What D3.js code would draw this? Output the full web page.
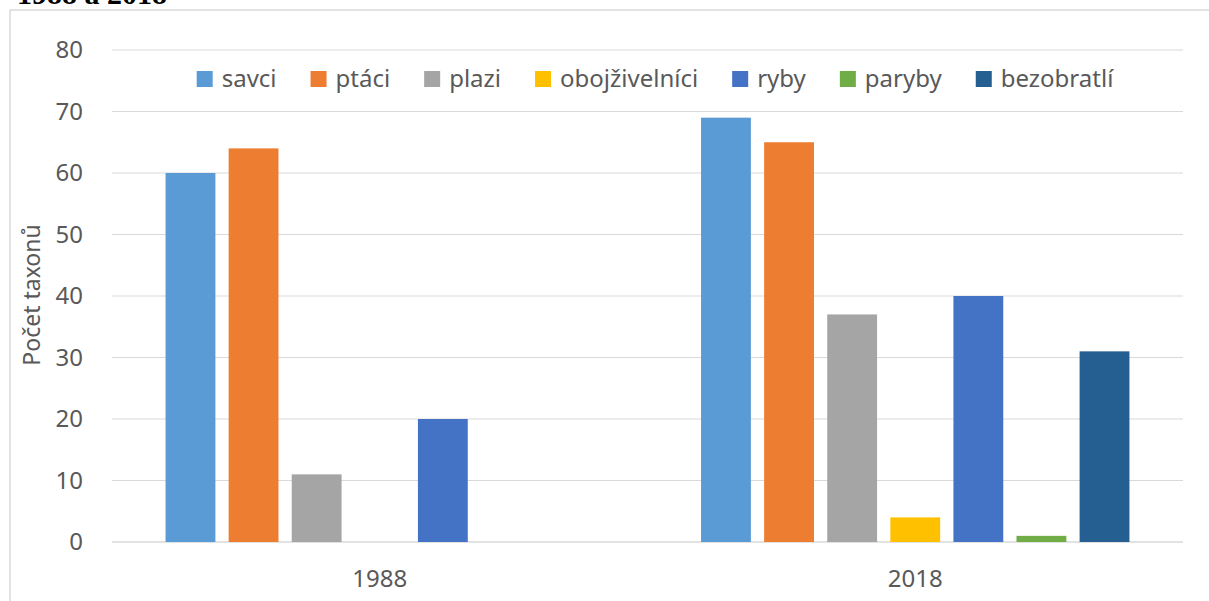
<!DOCTYPE html>
<html>
<head>
<meta charset="utf-8">
<script src="https://cdn.jsdelivr.net/npm/d3@7"></script>
<style>
  body { margin: 0; background: #fff; }
  svg text { font-family: "Noto Sans", "Open Sans", sans-serif; }
</style>
</head>
<body>
<div id="chart"></div>
<script>
// data
const years = ["1988", "2018"];
const groups = ["savci", "ptáci", "plazi", "obojživelníci", "ryby", "paryby", "bezobratlí"];
const colors = ["#5B9BD5", "#ED7D31", "#A5A5A5", "#FFC000", "#4472C4", "#70AD47", "#255E91"];
const values1988 = [60, 64, 11, 0, 20, 0, 0];
const values2018 = [69, 65, 37, 4, 40, 1, 31];
const yTicks = [0, 10, 20, 30, 40, 50, 60, 70, 80];

const width = 1209;
const height = 601;

const svg = d3.select("#chart").append("svg")
  .attr("width", width)
  .attr("height", height);

// caption cut off at the top of the picture
svg.append("text")
  .attr("x", 167)
  .attr("y", 4)
  .attr("text-anchor", "end")
  .style("font-family", "'Liberation Serif', serif")
  .style("font-weight", "bold")
  .style("font-size", "30px")
  .attr("fill", "#000")
  .text("1988 a 2018");

// chart frame
svg.append("rect")
  .attr("x", 10)
  .attr("y", 10)
  .attr("width", width)
  .attr("height", height)
  .attr("fill", "none")
  .attr("stroke", "#d9d9d9")
  .attr("stroke-width", 1.5);

const x0 = d3.scaleBand().domain(years).range([112, 1183]).paddingInner(0.2).paddingOuter(0.1);
const x1 = d3.scaleBand().domain(groups).range([0, x0.bandwidth()]).paddingInner(0.21);
const y = d3.scaleLinear().domain([0, 80]).range([542, 50]);
const color = d3.scaleOrdinal().domain(groups).range(colors);

// gridlines
svg.append("g")
  .selectAll("line")
  .data(yTicks)
  .enter()
  .append("line")
  .attr("x1", 112)
  .attr("x2", 1183)
  .attr("y1", d => y(d))
  .attr("y2", d => y(d))
  .attr("stroke", "#d9d9d9")
  .attr("stroke-width", d => d === 0 ? 1.6 : 1.1);

// y axis labels
const yAxis = svg.append("g")
  .attr("transform", "translate(90,0)")
  .call(d3.axisLeft(y).tickValues(yTicks).tickSize(0).tickPadding(7));
yAxis.select(".domain").remove();
yAxis.selectAll("text")
  .attr("fill", "#595959")
  .style("font-size", "24px");

svg.append("text")
  .attr("transform", "translate(40,295) rotate(-90)")
  .attr("text-anchor", "middle")
  .attr("fill", "#595959")
  .style("font-size", "23px")
  .text("Počet taxonů");

// bars
const rows = [values1988, values2018];
const barGroups = svg.append("g")
  .selectAll("g")
  .data(years)
  .enter()
  .append("g")
  .attr("transform", d => `translate(${x0(d)},0)`);

barGroups.selectAll("rect")
  .data((d, i) => groups.map((g, j) => ({ key: g, value: rows[i][j] })))
  .enter()
  .append("rect")
  .attr("x", d => x1(d.key))
  .attr("y", d => y(d.value))
  .attr("width", x1.bandwidth())
  .attr("height", d => y(0) - y(d.value))
  .attr("fill", d => color(d.key));

// x axis labels
const xAxis = svg.append("g")
  .attr("transform", "translate(0,542)")
  .call(d3.axisBottom(x0).tickSize(0).tickPadding(28));
xAxis.select(".domain").remove();
xAxis.selectAll("text")
  .attr("fill", "#595959")
  .style("font-size", "24px");

// legend, laid out from text widths then centred
const legend = svg.append("g");
const items = legend.selectAll("g")
  .data(groups)
  .enter()
  .append("g");

items.append("rect")
  .attr("width", 16)
  .attr("height", 16)
  .attr("y", -8)
  .attr("fill", d => color(d));

items.append("text")
  .attr("x", 25)
  .attr("dy", "0.35em")
  .attr("fill", "#595959")
  .style("font-size", "24px")
  .text(d => d);

let pos = 0;
items.each(function () {
  const w = d3.select(this).select("text").node().getComputedTextLength();
  d3.select(this).attr("transform", `translate(${pos},0)`);
  pos += 25 + w + 34;
});
const total = pos - 34;
legend.attr("transform", `translate(${655 - total / 2},79)`);
</script>
</body>
</html>
